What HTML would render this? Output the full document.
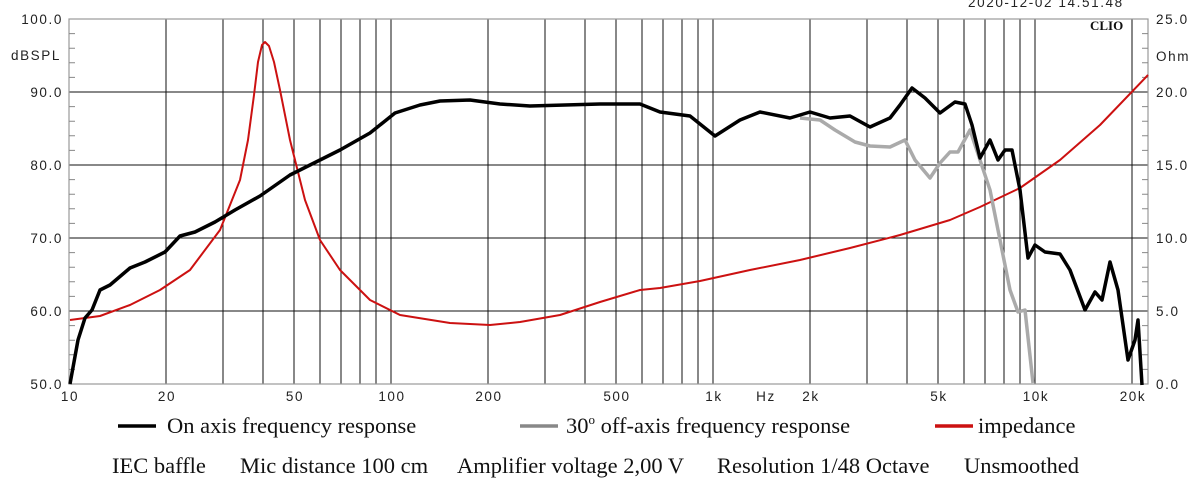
<!DOCTYPE html>
<html><head><meta charset="utf-8"><style>
body{margin:0;background:#fff}
svg{display:block}
.ax{font-family:"Liberation Sans",sans-serif;font-size:13.5px;fill:#222;letter-spacing:1.6px}
.lg{font-family:"Liberation Serif",serif;font-size:22.5px;fill:#111}
</style></head><body>
<svg width="1200" height="479" viewBox="0 0 1200 479" xmlns="http://www.w3.org/2000/svg">
<g stroke="#111" stroke-width="1">
<path d="M166 19V384M223 19V384M263 19V384M294 19V384M320 19V384M341 19V384M360 19V384M376 19V384M391 19V384M488 19V384M545 19V384M585 19V384M616 19V384M642 19V384M663 19V384M682 19V384M698 19V384M713 19V384M810 19V384M867 19V384M907 19V384M938 19V384M964 19V384M985 19V384M1004 19V384M1020 19V384M1035 19V384M1132 19V384"/>
<path d="M69 92H1148M69 165H1148M69 238H1148M69 311H1148M69 384H1148"/>
</g>
<rect x="69" y="19" width="1079" height="365" fill="none" stroke="#999" stroke-width="1.2"/>
<g stroke="#888" stroke-width="1">
<path d="M69 33.6h6M69 48.2h6M69 62.8h6M69 77.4h6M69 106.6h6M69 121.2h6M69 135.8h6M69 150.4h6M69 179.6h6M69 194.2h6M69 208.8h6M69 223.4h6M69 252.6h6M69 267.2h6M69 281.8h6M69 296.4h6M69 325.6h6M69 340.2h6M69 354.8h6M69 369.4h6"/>
<path d="M1148 33.6h-6M1148 48.2h-6M1148 62.8h-6M1148 77.4h-6M1148 106.6h-6M1148 121.2h-6M1148 135.8h-6M1148 150.4h-6M1148 179.6h-6M1148 194.2h-6M1148 208.8h-6M1148 223.4h-6M1148 252.6h-6M1148 267.2h-6M1148 281.8h-6M1148 296.4h-6M1148 325.6h-6M1148 340.2h-6M1148 354.8h-6M1148 369.4h-6"/>
</g>
<g class="ax" text-anchor="end">
<text x="63" y="24">100.0</text><text x="63" y="97">90.0</text><text x="63" y="170">80.0</text><text x="63" y="243">70.0</text><text x="63" y="316">60.0</text><text x="63" y="389">50.0</text>
<text x="61" y="60">dBSPL</text>
</g>
<g class="ax">
<text x="1156" y="24">25.0</text><text x="1156" y="97">20.0</text><text x="1156" y="170">15.0</text><text x="1156" y="243">10.0</text><text x="1156" y="316">5.0</text><text x="1156" y="389">0.0</text>
<text x="1156" y="61">Ohm</text>
<text x="968" y="7">2020-12-02 14.51.48</text>
</g>
<text x="1090" y="30" font-family="Liberation Serif,serif" font-weight="bold" font-size="13" fill="#111">CLIO</text>
<g class="ax" text-anchor="middle">
<text x="70" y="401">10</text><text x="167" y="401">20</text><text x="295" y="401">50</text><text x="392" y="401">100</text><text x="489" y="401">200</text><text x="617" y="401">500</text><text x="714" y="401">1k</text><text x="766" y="401">Hz</text><text x="811" y="401">2k</text><text x="939" y="401">5k</text><text x="1036" y="401">10k</text><text x="1133" y="401">20k</text>
</g>
<polyline fill="none" stroke="#cc1111" stroke-width="2" stroke-linejoin="round" points="70,320 100,316 130,305 160,290 190,270 220,230 240,180 248,140 254,95 258,62 262,45 265,42 269,46 274,62 280,90 290,140 305,200 320,240 340,270 370,300 400,315 450,323 490,325 520,322 560,315 600,302 640,290 660,288 700,281 750,270 800,260 850,248 900,235 950,220 980,207 1020,188 1060,160 1100,125 1148,75"/>
<polyline fill="none" stroke="#aaa" stroke-width="3.5" stroke-linejoin="round" points="800,118 820,120 835,130 855,142 870,146 890,147 905,140 915,160 930,178 940,163 950,152 958,152 970,130 980,160 990,190 1000,240 1010,290 1018,312 1025,310 1033,383"/>
<polyline fill="none" stroke="#000" stroke-width="3.5" stroke-linejoin="round" points="70,384 78,340 85,318 92,310 100,290 110,285 130,268 145,262 165,252 180,236 195,232 215,222 235,210 260,196 290,175 320,160 340,150 370,133 395,113 420,105 440,101 470,100 500,104 530,106 600,104 640,104 660,112 690,116 715,136 740,120 760,112 790,118 810,112 830,118 850,116 870,127 890,118 900,105 912,88 925,98 940,113 955,102 965,104 972,125 980,158 990,140 998,160 1005,150 1012,150 1020,190 1028,258 1035,245 1045,252 1060,254 1070,270 1085,310 1095,292 1102,300 1110,262 1118,290 1128,360 1135,340 1138,320 1142,385"/>
<g stroke-width="3.5">
<line x1="118" y1="426" x2="156" y2="426" stroke="#000"/>
<line x1="520" y1="426" x2="558" y2="426" stroke="#888"/>
<line x1="935" y1="426" x2="973" y2="426" stroke="#cc1111"/>
</g>
<g class="lg">
<text x="167" y="433">On axis frequency response</text>
<text x="566" y="433">30<tspan font-size="13" dy="-9">o</tspan><tspan dy="9"> off-axis frequency response</tspan></text>
<text x="978" y="433">impedance</text>
<text x="112" y="473">IEC baffle</text>
<text x="240" y="473">Mic distance 100 cm</text>
<text x="457" y="473">Amplifier voltage 2,00 V</text>
<text x="717" y="473">Resolution 1/48 Octave</text>
<text x="964" y="473">Unsmoothed</text>
</g>
</svg>
</body></html>
